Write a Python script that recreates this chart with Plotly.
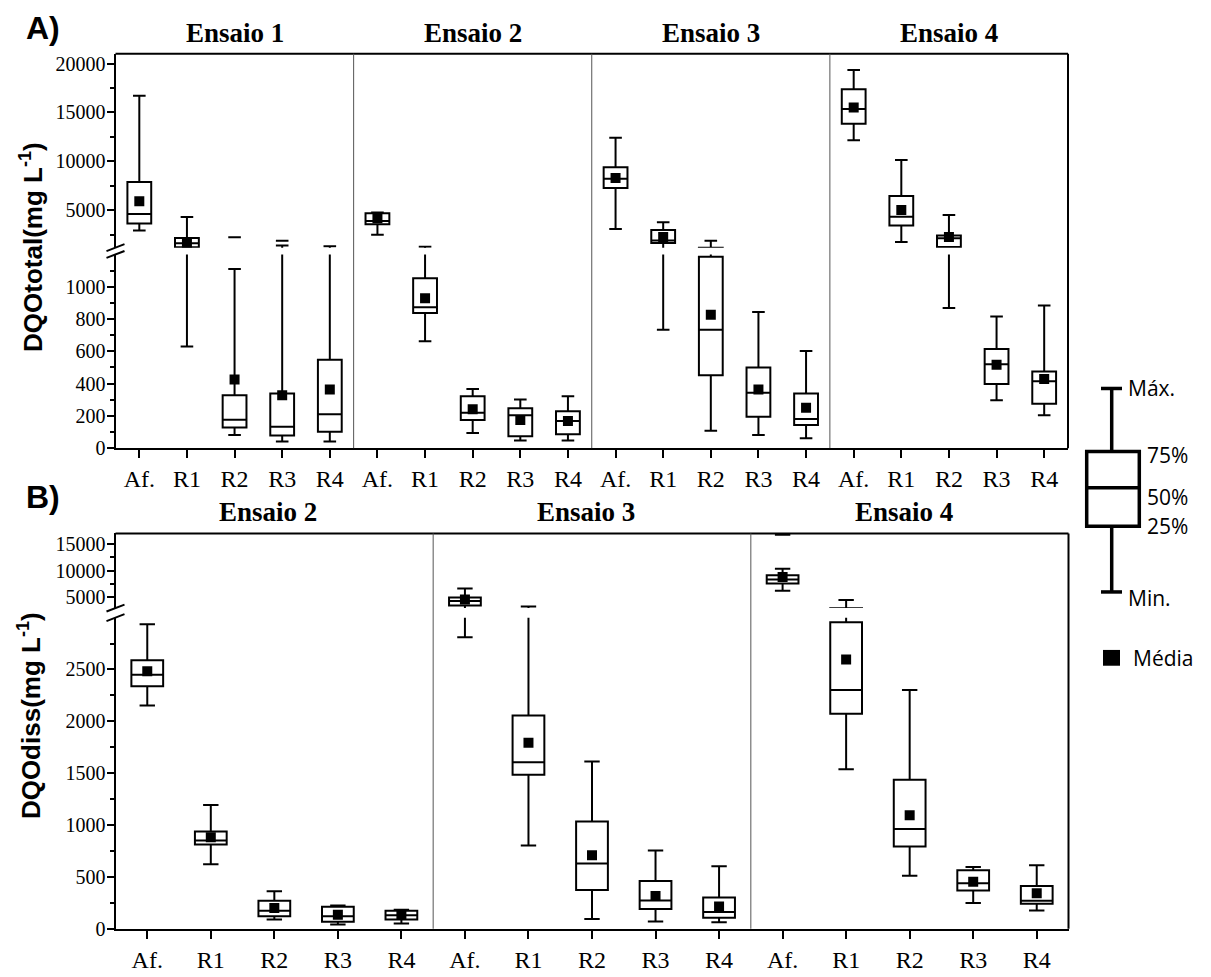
import plotly.graph_objects as go

W, H = 1211, 977

# ---------------- data ----------------
categories = ["Af.", "R1", "R2", "R3", "R4"]
ensaios_A = ["Ensaio 1", "Ensaio 2", "Ensaio 3", "Ensaio 4"]
ensaios_B = ["Ensaio 2", "Ensaio 3", "Ensaio 4"]

# Panel A: DQOtotal (mg/L) -- order: Ensaio 1 (Af., R1..R4), Ensaio 2, Ensaio 3, Ensaio 4
A_max = [16700, 4320, 1110, 1430, 1340,
         4800, 1300, 367, 302, 322,
         12430, 3790, 1900, 843, 602,
         19330, 10150, 4530, 816, 884]
A_q3 = [7900, 2180, 327, 339, 547,
        4700, 1053, 322, 247, 229,
        9410, 3010, 1185, 500, 339,
        17380, 6480, 2450, 614, 475]
A_median = [4630, 1650, 176, 133, 210,
            3920, 873, 220, 204, 168,
            8230, 1940, 734, 343, 180,
            15360, 4360, 2150, 520, 414]
A_q1 = [3660, 1250, 128, 78, 102,
        3590, 837, 174, 73, 86,
        7290, 1670, 451, 194, 143,
        13850, 3460, 1270, 398, 275]
A_min = [2950, 630, 82, 41, 41,
         2510, 663, 94, 47, 47,
         3110, 734, 108, 82, 61,
         12160, 1770, 869, 296, 204]
A_mean = [5940, 1700, 425, 327, 363,
          4190, 928, 241, 174, 168,
          8300, 2280, 826, 363, 251,
          15520, 5030, 2280, 516, 428]
A_extreme_groups = [("Ensaio 1", "R2"), ("Ensaio 1", "R3")]
A_extreme_values = [2250, 1900]

# Panel B: DQOdiss (mg/L) -- order: Ensaio 2, Ensaio 3, Ensaio 4
B_max = [2936, 1193, 362, 225, 184,
         6670, 3280, 1612, 755, 603,
         10370, 4500, 2301, 596, 612]
B_q3 = [2590, 939, 270, 212, 174,
        5000, 2057, 1034, 460, 301,
        9130, 2955, 1438, 565, 412]
B_median = [2450, 850, 174, 120, 130,
            4320, 1606, 629, 272, 162,
            8330, 2301, 962, 438, 270]
B_q1 = [2339, 812, 120, 67, 89,
        3460, 1486, 374, 190, 105,
        7590, 2072, 793, 368, 241]
B_min = [2152, 622, 89, 41, 50,
         2810, 803, 95, 70, 63,
         6240, 1539, 510, 248, 177]
B_mean = [2482, 882, 200, 136, 136,
          4610, 1793, 708, 317, 215,
          8830, 2596, 1095, 453, 343]
B_extreme_groups = [("Ensaio 4", "Af.")]
B_extreme_values = [16720]

A_upper_ticks = [5000, 10000, 15000, 20000]
A_lower_ticks = [0, 200, 400, 600, 800, 1000]
B_upper_ticks = [5000, 10000, 15000]
B_lower_ticks = [0, 500, 1000, 1500, 2000, 2500]

# ---------------- geometry (pixels) ----------------
def px(x):
    return x / W


def py(y):
    return 1 - y / H


A_geo = dict(left=115.5, right=1068, top=53.4, btop=249.7, bbot=256.6, bottom=452.7)
B_geo = dict(left=115.5, right=1068.5, top=539, btop=614.6, bbot=624.3, bottom=939.3)
A_ranges = ([1200, 21000], [0, 1200])
B_ranges = ([3000, 17000], [0, 3000])

serif = "Liberation Serif, Times New Roman, serif"
sans = "Liberation Sans, Arial, sans-serif"

fig = go.Figure()


def minor_vals(ticks, rng):
    step = ticks[1] - ticks[0]
    out = []
    v = ticks[0] - step / 2
    while v <= rng[1]:
        if v >= rng[0]:
            out.append(v)
        v += step
    return out


def add_panel(xa, ya_list, ranges, ensaios, hi, q3, med, q1, lo, mean,
              ext_groups, ext_vals, cap_size):
    n = len(ensaios) * len(categories)
    xs = list(range(n))
    ex = [ensaios.index(e) * len(categories) + categories.index(c) for e, c in ext_groups]
    for ya, rng in zip(ya_list, ranges):
        fig.add_trace(go.Box(
            x=xs, q1=q1, median=med, q3=q3, lowerfence=lo, upperfence=hi,
            xaxis=xa, yaxis=ya, width=0.5, whiskerwidth=0,
            line=dict(color="black", width=2), fillcolor="white",
            boxpoints=False, showlegend=False, hoverinfo="skip"))
        # whisker caps (only those that fall inside this segment of the broken axis)
        cx, cy = [], []
        for i in xs:
            for v in (hi[i], lo[i]):
                if rng[0] <= v <= rng[1]:
                    cx.append(i)
                    cy.append(v)
        for i, v in zip(ex, ext_vals):
            if rng[0] <= v <= rng[1]:
                cx.append(i)
                cy.append(v)
        fig.add_trace(go.Scatter(
            x=cx, y=cy, mode="markers", xaxis=xa, yaxis=ya,
            marker=dict(symbol="line-ew", size=cap_size, color="black",
                        line=dict(width=2, color="black")),
            showlegend=False, cliponaxis=True, hoverinfo="skip"))
        mx = [i for i in xs if rng[0] <= mean[i] <= rng[1]]
        fig.add_trace(go.Scatter(
            x=mx, y=[mean[i] for i in mx], mode="markers", xaxis=xa, yaxis=ya,
            marker=dict(symbol="square", size=10, color="black"),
            showlegend=False, cliponaxis=True, hoverinfo="skip"))


add_panel("x", ["y", "y2"], A_ranges, ensaios_A, A_max, A_q3, A_median, A_q1, A_min,
          A_mean, A_extreme_groups, A_extreme_values, 9)
add_panel("x2", ["y3", "y4"], B_ranges, ensaios_B, B_max, B_q3, B_median, B_q1, B_min,
          B_mean, B_extreme_groups, B_extreme_values, 11)


def xaxis_cfg(geo, n, anchor):
    return dict(domain=[px(geo["left"]), px(geo["right"])], anchor=anchor,
                range=[-0.5, n - 0.5], tickmode="array", tickvals=list(range(n)),
                ticktext=categories * (n // len(categories)),
                ticks="outside", ticklen=8, tickwidth=2, tickcolor="black",
                showline=True, linewidth=2, linecolor="black",
                showgrid=False, zeroline=False,
                tickfont=dict(family=serif, size=24, color="black"))


def yaxis_cfg(top, bottom, rng, ticks, anchor):
    return dict(domain=[py(bottom), py(top)], anchor=anchor,
                range=rng, tickmode="array", tickvals=ticks,
                ticktext=[str(t) for t in ticks],
                ticks="outside", ticklen=7, tickwidth=2, tickcolor="black",
                ticklabelstandoff=-3,
                minor=dict(tickvals=minor_vals(ticks, rng), ticks="outside",
                           ticklen=4, tickwidth=2, tickcolor="black"),
                showline=True, linewidth=2, linecolor="black",
                showgrid=False, zeroline=False,
                tickfont=dict(family=serif, size=20, color="black"))


ya = yaxis_cfg(A_geo["top"], A_geo["btop"], A_ranges[0], A_upper_ticks, "x")
ya2 = yaxis_cfg(A_geo["bbot"], A_geo["bottom"], A_ranges[1], A_lower_ticks, "x")
yb3 = yaxis_cfg(B_geo["top"], B_geo["btop"], B_ranges[0], B_upper_ticks, "x2")
yb4 = yaxis_cfg(B_geo["bbot"], B_geo["bottom"], B_ranges[1], B_lower_ticks, "x2")

shapes = []
annotations = []


def line_px(x0, y0, x1, y1, width=2, color="black"):
    shapes.append(dict(type="line", xref="paper", yref="paper",
                       x0=px(x0), y0=py(y0), x1=px(x1), y1=py(y1),
                       line=dict(color=color, width=width)))


def frame(geo, xref, n_ens):
    line_px(geo["left"], geo["top"], geo["right"], geo["top"])
    line_px(geo["right"], geo["top"], geo["right"], geo["bottom"])
    for k in range(1, n_ens):
        shapes.append(dict(type="line", xref=xref, yref="paper",
                           x0=k * len(categories) - 0.5, x1=k * len(categories) - 0.5,
                           y0=py(geo["bottom"]), y1=py(geo["top"]),
                           line=dict(color="#555555", width=1)))
    # break marks
    for yc in (geo["btop"], geo["bbot"]):
        line_px(geo["left"] - 9, yc + 3.5, geo["left"] + 9, yc - 3.5, width=2)


frame(A_geo, "x", len(ensaios_A))
frame(B_geo, "x2", len(ensaios_B))


def text(txt, x, y, font, xref="paper", xanchor="center", angle=0, xshift=0):
    annotations.append(dict(text=txt, xref=xref, yref="paper", x=x, y=y,
                            xanchor=xanchor, yanchor="middle", textangle=angle,
                            xshift=xshift, showarrow=False, font=font))


title_font = dict(family=serif, size=27, color="black")
for i, e in enumerate(ensaios_A):
    text("<b>%s</b>" % e, i * 5 + 2, py(32), title_font, xref="x")
for i, e in enumerate(ensaios_B):
    text("<b>%s</b>" % e, i * 5 + 2, py(517), title_font, xref="x2", xshift=-6)

letter_font = dict(family=sans, size=32, color="black")
text("<b>A)</b>", px(43), py(27), letter_font)
text("<b>B)</b>", px(43), py(502), letter_font)

ytitle_font = dict(family=sans, size=26, color="black")
text("<b>DQOtotal(mg L<sup>-1</sup>)</b>", px(32), py(249), ytitle_font, angle=-90)
text("<b>DQOdiss(mg L<sup>-1</sup>)</b>", px(29), py(724), ytitle_font, angle=-90)

# legend glyph
lw = 3.5
line_px(1111.7, 392.3, 1111.7, 456, width=lw)
line_px(1101, 392.3, 1122, 392.3, width=lw)
line_px(1111.7, 531.7, 1111.7, 598.3, width=lw)
line_px(1101, 598.3, 1122, 598.3, width=lw)
shapes.append(dict(type="rect", xref="paper", yref="paper",
                   x0=px(1086.7), x1=px(1139.3), y0=py(531.7), y1=py(456),
                   line=dict(color="black", width=lw), fillcolor="white"))
line_px(1086.7, 492.7, 1139.3, 492.7, width=lw)
shapes.append(dict(type="rect", xref="paper", yref="paper",
                   x0=px(1103), x1=px(1120), y0=py(673), y1=py(657),
                   line=dict(color="black", width=0), fillcolor="black"))

leg_font = dict(family="Open Sans", size=21, color="black")
for txt, x, y in [("Máx.", 1126, 392), ("75%", 1145, 460), ("50%", 1145, 502),
                  ("25%", 1145, 532), ("Min.", 1126, 604), ("Média", 1131, 665)]:
    text(txt, px(x), py(y), leg_font, xanchor="left")

fig.update_layout(
    width=W, height=H,
    margin=dict(l=0, r=0, t=0, b=0),
    paper_bgcolor="white", plot_bgcolor="white",
    showlegend=False,
    xaxis=xaxis_cfg(A_geo, 20, "y2"),
    xaxis2=xaxis_cfg(B_geo, 15, "y4"),
    yaxis=ya, yaxis2=ya2, yaxis3=yb3, yaxis4=yb4,
    shapes=shapes, annotations=annotations,
)

fig.write_html("out.html")
